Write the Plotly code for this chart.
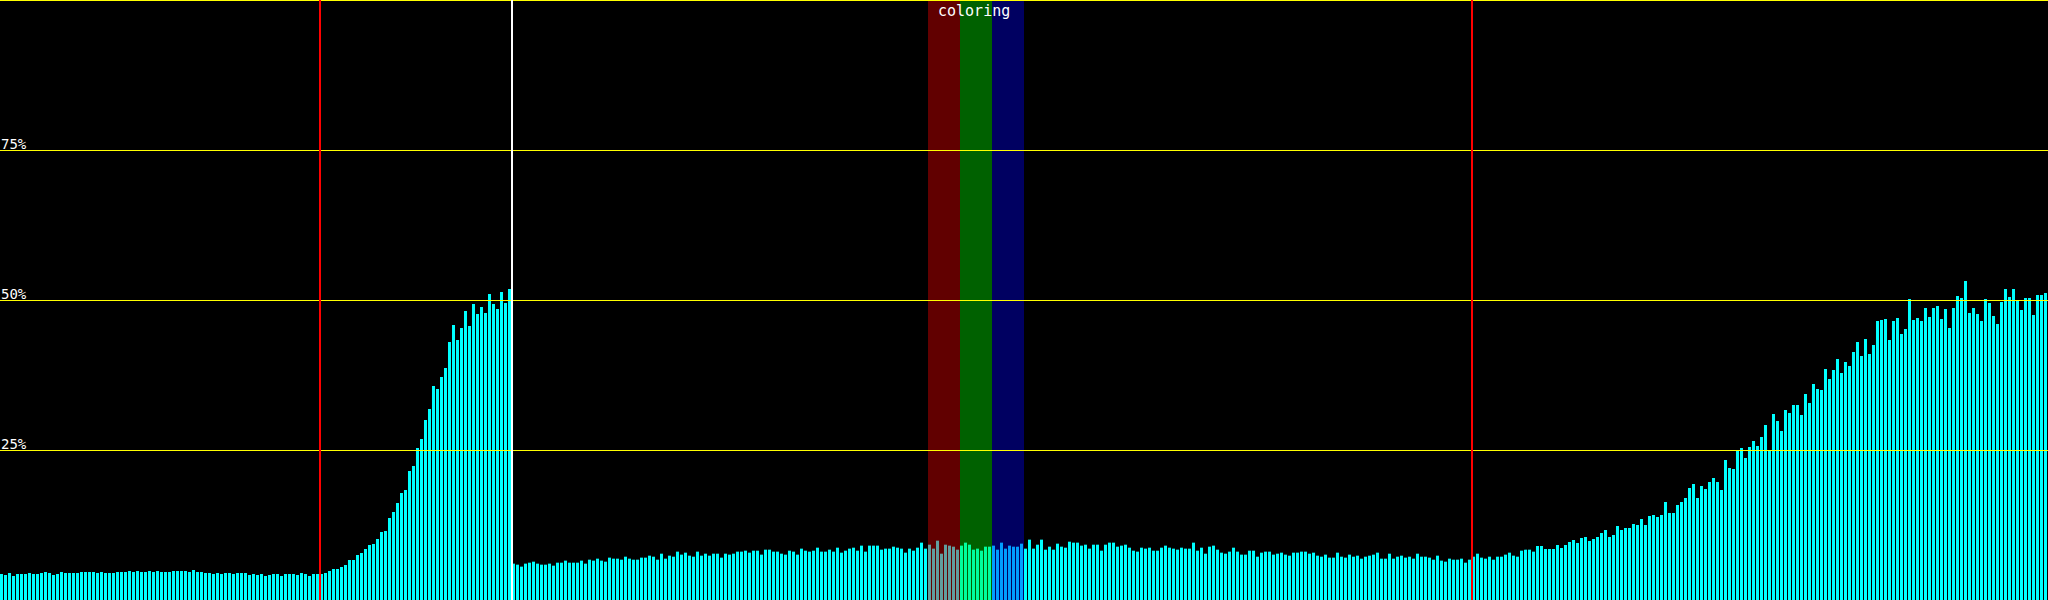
import plotly.graph_objects as go

# ---- data (percent per bin, 512 bins) ----
vals_a = [4.33, 4.17, 4.5, 4.0, 4.33, 4.33, 4.33, 4.5, 4.33, 4.33,
          4.5, 4.67, 4.5, 4.17, 4.33, 4.67, 4.5, 4.5, 4.5, 4.5,
          4.67, 4.67, 4.67, 4.67, 4.5, 4.67, 4.5, 4.5, 4.5, 4.67,
          4.67, 4.67, 4.83, 4.67, 4.83, 4.67, 4.67, 4.83, 4.67, 4.83,
          4.67, 4.67, 4.67, 4.83, 4.83, 4.83, 4.83, 4.67, 5.0, 4.67,
          4.67, 4.5, 4.5, 4.33, 4.5, 4.33, 4.5, 4.5, 4.33, 4.5,
          4.5, 4.5, 4.17, 4.33, 4.17, 4.33, 4.0, 4.17, 4.33, 4.33,
          4.0, 4.33, 4.33, 4.33, 4.17, 4.5, 4.33, 4.0, 4.33, 4.33]
vals_b = [4.33, 4.5, 4.83, 5.17, 5.17, 5.5, 5.83, 6.67, 6.67, 7.5,
          7.83, 8.5, 9.17, 9.33, 10.17, 11.33, 11.5, 13.67, 14.67, 16.17,
          17.83, 18.33, 21.5, 22.33, 25.33, 26.83, 30.0, 31.83, 35.67, 35.17,
          37.17, 38.67, 43.0, 45.83, 43.33, 45.33, 48.17, 45.67, 49.33, 47.67,
          48.83, 47.83, 51.0, 49.33, 48.5, 51.33, 49.5, 51.83]
vals_c = [6.06, 5.89, 5.56, 6.06, 6.22, 6.39, 6.06, 5.89, 5.89, 6.06,
          5.72, 6.22, 6.22, 6.56, 6.22, 6.22, 6.22, 6.56, 6.06,
          6.72, 6.56, 6.89, 6.56, 6.39, 7.06, 6.89, 6.89, 6.72, 7.22,
          6.89, 6.72, 6.72, 7.06, 7.06, 7.39, 7.22, 6.72, 7.72, 6.89,
          7.39, 7.22, 8.06, 7.56, 7.89, 7.39, 7.22, 8.06, 7.39, 7.72,
          7.39, 7.72, 7.72, 7.06, 7.72, 7.56, 7.72, 8.06, 8.06,
          8.22, 7.89, 8.22, 8.22, 7.56, 8.39, 8.39, 8.06, 8.06, 7.72,
          7.56, 8.22, 8.06, 7.56, 8.56, 8.22, 8.06, 8.22, 8.72, 8.06,
          8.06, 8.39, 8.06, 8.72, 7.89, 8.22, 8.56, 8.72, 8.22,
          9.06, 8.06, 9.06, 9.06, 9.06, 8.39, 8.56, 8.56, 8.89, 8.72,
          8.56, 7.89, 8.56, 8.22, 8.72, 9.56, 8.56]
vals_d = [9.22, 8.56, 9.89, 7.72, 9.22, 9.06, 8.89, 8.39,
          9.06, 9.56, 9.22, 8.39, 8.56, 8.22, 8.89, 8.89,
          9.06, 8.39, 9.56, 8.56, 9.06, 8.89, 8.89, 9.39]
vals_e = [8.56, 10.06, 8.56, 9.22, 10.06, 8.39, 8.89, 8.39, 9.39, 8.89,
          8.72, 9.72, 9.56, 9.56, 9.06, 9.22, 8.56, 9.22, 9.22, 8.22,
          9.22, 9.56, 9.56, 8.89, 9.06, 9.22, 8.72, 8.22, 8.06, 8.72,
          8.56, 8.72, 8.22, 8.22, 8.72, 9.06, 8.72, 8.56, 8.39, 8.72,
          8.56, 8.56, 9.56, 8.22, 8.72, 7.72, 8.89, 9.06, 8.39, 7.89,
          7.72, 8.06, 8.72, 8.06, 7.56, 7.56, 8.22, 8.22, 7.22, 7.89,
          8.06, 8.06, 7.56, 7.72, 7.89, 7.56, 7.39, 7.89, 7.89, 8.06,
          8.06, 7.72, 7.89, 7.39, 7.22, 7.56, 7.06, 7.06, 7.89, 7.22,
          7.06, 7.56, 7.22, 7.39, 6.89, 7.22, 7.39, 7.56, 7.89, 6.89,
          6.89, 7.72, 6.89, 7.22, 7.39, 7.06, 7.22, 6.89, 7.72, 7.22,
          7.22, 7.06, 6.72, 7.39, 6.56, 6.39, 6.89, 6.72, 6.72, 6.89,
          6.22, 6.72, 7.22, 7.72, 7.06, 6.89, 7.22, 6.72, 7.22, 7.22,
          7.56, 7.89, 7.39, 7.22, 8.22, 8.39, 8.39, 8.06]
vals_f = [9.0, 9.0, 8.5, 8.5, 8.5, 9.17, 8.67, 9.17, 9.67, 10.0,
          9.5, 10.33, 10.5, 9.83, 10.17, 10.5, 11.17, 11.67, 10.5, 10.83,
          12.33, 11.67, 12.0, 12.0, 12.67, 12.5, 13.5, 12.5, 14.0, 14.17,
          13.83, 14.17, 16.33, 14.5, 14.5, 15.83, 16.33, 17.0, 18.67, 19.33,
          17.0, 19.0, 18.5, 19.67, 20.33, 19.67, 18.33, 23.33, 22.0, 21.83,
          24.83, 25.33, 23.67, 25.5, 26.5, 25.67, 27.17, 29.17, 24.83, 31.0,
          29.83, 28.17, 31.67, 31.17, 32.5, 32.5, 30.83, 34.33, 32.83, 36.0,
          35.17, 35.0, 38.5, 36.83, 38.33, 40.17, 37.83, 39.67, 39.0, 41.33,
          43.0, 40.67, 43.5, 41.0, 42.5, 46.5, 46.67, 46.83, 43.33, 46.5,
          47.0, 44.33, 45.17, 50.17, 46.67, 47.0, 46.5, 48.67, 47.17, 48.67,
          49.0, 46.83, 48.5, 45.33, 48.67, 50.67, 50.33, 53.17, 47.83, 48.67,
          47.67, 46.5, 50.17, 49.5, 47.33, 46.0, 49.67, 51.83, 50.5, 51.83,
          49.83, 48.33, 50.33, 50.33, 47.5, 50.83, 50.83, 51.17]

values = vals_a + vals_b + vals_c + vals_d + vals_e + vals_f
bins = list(range(len(values)))

tick_vals = [25, 50, 75]
tick_text = ["25%", "50%", "75%"]
top_val = 100

red_markers = [80, 368]      # bin indices of red cursor lines
white_markers = [128]        # bin index of white cursor line
band_starts = [232, 240, 248]
band_len = 8
band_colors = ["rgba(255,0,0,0.38)", "rgba(0,255,0,0.38)", "rgba(0,0,255,0.38)"]
band_label = "coloring"

W, H = 2048, 600
BAR_W = 0.75
HALF = BAR_W / 2
HALF_PX = 0.5 * top_val / H   # half a pixel in y-data units (crisp 1px lines)

fig = go.Figure()
fig.add_trace(go.Bar(x=bins, y=values, width=BAR_W,
                     marker=dict(color="#00ffff", line=dict(width=0)),
                     hoverinfo="skip"))

shapes = []
for s, c in zip(band_starts, band_colors):
    shapes.append(dict(type="rect", xref="x", yref="paper",
                       x0=s - HALF, x1=s + band_len - HALF, y0=0, y1=1,
                       fillcolor=c, line=dict(width=0), layer="above"))
for t in tick_vals + [top_val]:
    shapes.append(dict(type="line", xref="paper", yref="y", x0=0, x1=1,
                       y0=t - HALF_PX, y1=t - HALF_PX,
                       line=dict(color="#ffff00", width=1), layer="above"))
for m in red_markers:
    shapes.append(dict(type="line", xref="x", yref="paper", x0=m - HALF, x1=m - HALF,
                       y0=0, y1=1, line=dict(color="#ff0000", width=2), layer="above"))
for m in white_markers:
    shapes.append(dict(type="line", xref="x", yref="paper", x0=m - HALF, x1=m - HALF,
                       y0=0, y1=1, line=dict(color="#ffffff", width=2), layer="above"))

band_center = (band_starts[0] + band_starts[-1] + band_len - 1) / 2

annotations = [dict(x=0, xref="paper", y=t, yref="y", text=lbl, showarrow=False,
                    xanchor="left", yanchor="bottom", xshift=-1, yshift=-4,
                    font=dict(family="DejaVu Sans Mono", size=14, color="#ffffff"))
               for t, lbl in zip(tick_vals, tick_text)]
annotations.append(dict(x=band_center, xref="x", y=1, yref="paper",
                        text=band_label, showarrow=False,
                        xanchor="center", yanchor="top", xshift=-2, yshift=0,
                        font=dict(family="DejaVu Sans Mono", size=15, color="#ffffff")))

fig.update_layout(
    width=W, height=H,
    margin=dict(l=0, r=0, t=0, b=0, pad=0),
    paper_bgcolor="#000000", plot_bgcolor="#000000",
    showlegend=False,
    shapes=shapes,
    xaxis=dict(range=[-HALF, len(values) - HALF], visible=False, fixedrange=True),
    yaxis=dict(range=[0, top_val], visible=False, fixedrange=True),
    annotations=annotations,
)

fig.write_html("out.html", config={"displayModeBar": False},
               post_script="document.body.style.margin='0';document.body.style.overflow='hidden';")
